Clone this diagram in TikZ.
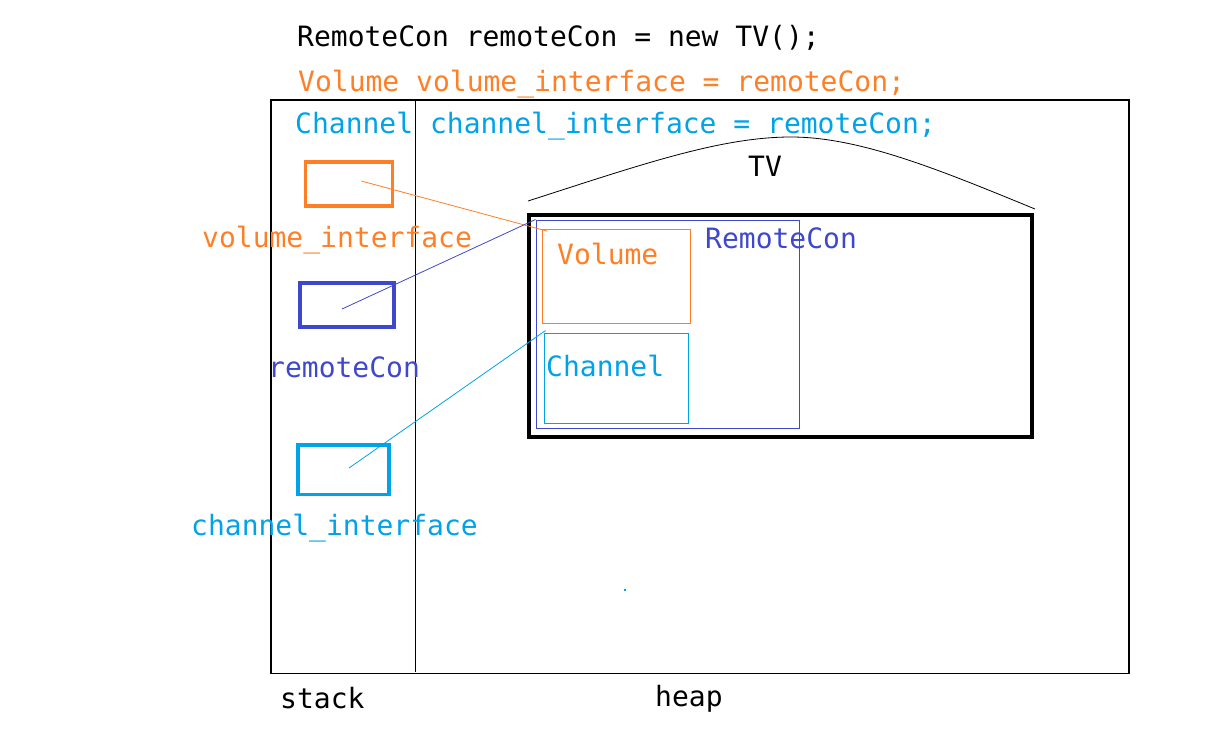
\documentclass[tikz,border=0pt]{standalone}
\usepackage{fontspec}
\newfontfamily\codefont{DejaVu Sans Mono}
\usetikzlibrary{positioning}
\definecolor{volorange}{RGB}{255,127,39}
\definecolor{remblue}{RGB}{63,72,204}
\definecolor{chancyan}{RGB}{0,162,232}
\tikzset{
	codetext/.style = {anchor=base west, inner sep=0pt,
		font=\codefont\fontsize{28}{30}\selectfont},
	varbox/.style   = {shape=rectangle, draw, line width=3.2pt, inner sep=0pt},
	objbox/.style   = {shape=rectangle, draw, line width=1pt, inner sep=0pt},
	tvbox/.style    = {objbox, line width=4pt},
	link/.style     = {line width=0.8pt},
}

\begin{document}
\begin{tikzpicture}[x=1pt, y=-1pt]
	\useasboundingbox (0,0) rectangle (1223,737);
	% code lines
	\node[codetext] (codeNew) at (297,46) {RemoteCon remoteCon = new TV();};
	\node[codetext, text=volorange] (codeVolume) at (298,91) {Volume volume\_interface = remoteCon;};
	
	% memory frame: stack | heap
	\draw[line width=1.3pt] (271,100) rectangle (1129,673.5);
	\draw[line width=1.2pt] (415.5,100) -- (415.5,672);
	\node[codetext, text=chancyan] (codeChannel) at (295,133) {Channel channel\_interface = remoteCon;};
	
	% stack
	\node[varbox, draw=volorange, minimum width=87, minimum height=44] (volumeVar) at (349.3,184) {};
	\node[codetext, text=volorange] (volumeName) at (202,247) {volume\_interface};
	\node[varbox, draw=remblue, minimum width=94, minimum height=44] (remoteVar) at (347,305) {};
	\node[codetext, text=remblue] (remoteName) at (268,377) {remoteCon};
	\node[varbox, draw=chancyan, minimum width=91, minimum height=49.5] (channelVar) at (343.5,469.7) {};
	\node[codetext, text=chancyan] (channelName) at (191,535) {channel\_interface};
	
	% heap
	\node[tvbox, minimum width=502.7, minimum height=222] (tvObj) at (780.7,325.7) {};
	\node[objbox, draw=remblue, minimum width=263, minimum height=208] (remoteObj) at (667.5,324) {};
	\node[objbox, draw=volorange, minimum width=148, minimum height=94] (volumeObj) at (616,276) {};
	\node[objbox, draw=chancyan, minimum width=144, minimum height=89.5] (channelObj) at (616,378.3) {};
	\node[codetext, text=remblue] (remoteType) at (705,248.5) {RemoteCon};
	\node[codetext, text=volorange] (volumeType) at (557,264.5) {Volume};
	\node[codetext, text=chancyan] (channelType) at (546,376) {Channel};
	\draw[line width=0.8pt] (528,201) .. controls (640,165) and (720,137) .. (791,137)
		.. controls (860,137) and (940,170) .. (1035,209);
	\node[codetext] (tvName) at (748,176) {TV};
	\fill[chancyan] (624,589) rectangle (626,591);
	
	% references
	\draw[link, volorange] ([xshift=12pt, yshift=3pt]volumeVar.center) -- ([xshift=6pt, yshift=-2.7pt]volumeObj.north west);
	\draw[link, remblue] ([xshift=-5pt, yshift=-4pt]remoteVar.center) -- (remoteObj.north west);
	\draw[link, chancyan] ([xshift=5.5pt, yshift=1.7pt]channelVar.center) -- ([xshift=2pt, yshift=2.5pt]channelObj.north west);
	
	\node[codetext] (stackName) at (280,708) {stack};
	\node[codetext] (heapName) at (655,706) {heap};
\end{tikzpicture}
\end{document}
